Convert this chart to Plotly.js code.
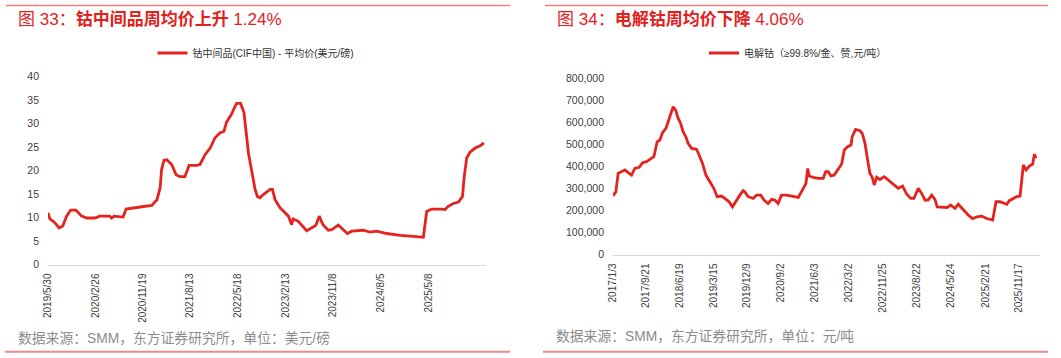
<!DOCTYPE html>
<html>
<head>
<meta charset="utf-8">
<script src="https://cdn.plot.ly/plotly-3.0.1.min.js"></script>
<style>
html,body{margin:0;padding:0;background:#fff;}
#chart{width:1061px;height:358px;}
</style>
</head>
<body>
<div id="chart"></div>
<script>
// ---------- Data: 钴中间品(CIF中国) 平均价 (美元/磅) ----------
const leftDates = [
 '2019-05-30','2019-06-10','2019-07-08','2019-08-01','2019-08-22','2019-09-13','2019-10-06','2019-11-05','2019-12-08',
 '2020-01-06','2020-02-22','2020-03-20','2020-05-16','2020-05-26','2020-06-09','2020-07-31','2020-08-17','2020-10-26','2020-11-15',
 '2021-01-10','2021-02-09','2021-02-27','2021-03-07','2021-03-21','2021-04-06','2021-05-04','2021-05-29','2021-06-20','2021-07-18',
 '2021-08-11','2021-09-24','2021-10-12','2021-11-10','2021-12-09',
 '2022-01-06','2022-02-03','2022-02-26','2022-03-12','2022-04-11','2022-04-30','2022-05-09','2022-06-01','2022-06-20','2022-07-15',
 '2022-08-03','2022-08-22','2022-09-04','2022-09-19','2022-10-08','2022-11-16','2022-11-29','2022-12-14',
 '2023-01-11','2023-02-10','2023-02-28','2023-03-18','2023-03-27','2023-04-25','2023-05-14','2023-06-12','2023-07-19','2023-08-04',
 '2023-08-23','2023-09-12','2023-10-13','2023-11-02','2023-12-09','2023-12-28',
 '2024-01-30','2024-02-24','2024-04-30','2024-06-07','2024-07-15','2024-09-11','2024-11-26',
 '2025-02-10','2025-04-07','2025-04-26','2025-05-24','2025-07-20','2025-08-08','2025-08-27','2025-09-25','2025-10-24','2025-11-16',
 '2025-11-25','2025-12-10','2025-12-29','2026-01-27','2026-02-25','2026-03-18'
];
const leftValues = [
 11.0,9.7,8.9,7.8,8.2,10.3,11.6,11.6,10.3,
 9.9,9.9,10.3,10.3,9.9,10.3,10.1,11.8,12.1,12.3,
 12.6,13.8,16.3,20.2,22.2,22.3,21.3,19.1,18.7,18.7,
 21.1,21.1,21.3,23.4,24.8,
 27.0,28.0,28.4,30.3,32.1,33.7,34.3,34.3,32.3,23.8,
 19.5,16.0,14.5,14.2,14.9,16.0,16.0,13.8,
 12.1,11.0,10.3,8.5,9.7,9.2,8.4,7.2,8.0,8.4,
 10.3,8.5,7.3,7.4,8.4,7.8,
 6.6,7.1,7.3,6.9,7.1,6.6,6.2,
 6.0,5.8,11.3,11.8,11.8,11.7,12.4,13.0,13.3,14.5,
 18.4,22.7,23.9,24.8,25.3,25.9
];
const leftTicks = ['2019-05-30','2020-02-26','2020-11-19','2021-08-13','2022-05-18','2023-02-13','2023-11-08','2024-08-05','2025-05-08'];
const leftTickText = ['2019/5/30','2020/2/26','2020/11/19','2021/8/13','2022/5/18','2023/2/13','2023/11/8','2024/8/5','2025/5/8'];

// ---------- Data: 电解钴 (≥99.8%/金、赞, 元/吨) ----------
const rightDates = [
 '2017-01-03','2017-01-26','2017-02-13','2017-03-12','2017-04-08','2017-05-04','2017-05-31','2017-06-26','2017-07-31','2017-08-27',
 '2017-09-27','2017-10-24','2017-11-25','2017-12-21',
 '2018-01-12','2018-02-02','2018-03-01','2018-03-19','2018-04-07','2018-04-28','2018-05-19','2018-06-07','2018-06-26','2018-07-16',
 '2018-08-07','2018-08-25','2018-09-22','2018-10-31','2018-11-21','2018-12-18',
 '2019-01-14','2019-02-14','2019-03-18','2019-04-14','2019-05-19','2019-06-14','2019-07-18','2019-08-14','2019-09-15','2019-10-12',
 '2019-11-07','2019-11-20','2019-12-17',
 '2020-01-26','2020-02-22','2020-03-27','2020-04-22','2020-05-24','2020-06-21','2020-07-17','2020-08-12','2020-09-08','2020-10-18','2020-12-10',
 '2021-01-20','2021-03-01','2021-03-22','2021-04-05','2021-04-17','2021-05-19','2021-06-28','2021-08-07','2021-08-26','2021-09-16',
 '2021-10-07','2021-11-03','2021-12-05',
 '2022-01-01','2022-01-22','2022-02-18','2022-03-16','2022-03-26','2022-04-22','2022-05-27','2022-06-14','2022-07-06','2022-07-27',
 '2022-08-14','2022-09-02','2022-09-18','2022-10-07','2022-11-02','2022-12-07',
 '2023-01-03','2023-02-04','2023-03-02','2023-03-28','2023-05-02','2023-06-03','2023-07-05','2023-07-31','2023-09-04','2023-10-01',
 '2023-10-27','2023-11-22','2023-12-20',
 '2024-01-15','2024-02-02','2024-03-21','2024-04-22','2024-05-19','2024-06-23','2024-07-19','2024-08-28','2024-10-06','2024-11-10','2024-12-17',
 '2025-01-22','2025-03-03','2025-04-20','2025-05-16','2025-06-17','2025-07-14','2025-08-10','2025-08-30','2025-10-01','2025-10-28',
 '2025-11-24','2025-12-20',
 '2026-01-11','2026-02-06','2026-03-05','2026-03-18','2026-03-31'
];
const rightValues = [
 265000,284000,368000,375000,383000,371000,360000,390000,395000,416000,
 421000,431000,443000,511000,
 519000,552000,572000,602000,640000,670000,652000,617000,595000,557000,
 534000,504000,481000,477000,451000,413000,
 360000,330000,300000,262000,265000,254000,239000,216000,247000,269000,
 289000,284000,262000,
 254000,269000,269000,247000,231000,250000,247000,231000,269000,269000,262000,
 259000,300000,322000,390000,356000,350000,345000,345000,375000,375000,
 356000,360000,390000,
 410000,474000,489000,496000,534000,567000,561000,549000,504000,428000,
 368000,350000,315000,350000,340000,353000,
 340000,325000,310000,300000,310000,274000,254000,254000,300000,277000,
 247000,247000,269000,
 250000,216000,216000,213000,224000,209000,228000,201000,179000,163000,171000,
 174000,163000,156000,239000,239000,235000,228000,244000,254000,262000,
 265000,406000,
 383000,401000,410000,455000,436000
];
const rightTicks = ['2017-01-03','2017-09-21','2018-06-19','2019-03-15','2019-12-09','2020-09-02','2021-06-03','2022-03-02','2022-11-25','2023-08-22','2024-05-24','2025-02-21','2025-11-17'];
const rightTickText = ['2017/1/3','2017/9/21','2018/6/19','2019/3/15','2019/12/9','2020/9/2','2021/6/3','2022/3/2','2022/11/25','2023/8/22','2024/5/24','2025/2/21','2025/11/17'];

const leftName = '钴中间品(CIF中国) - 平均价(美元/磅)';
const rightName = '电解钴（≥99.8%/金、赞,元/吨）';
const leftTitle = '图 33：<b>钴中间品周均价上升</b> 1.24%';
const rightTitle = '图 34：<b>电解钴周均价下降</b> 4.06%';
const leftSource = '数据来源：SMM，东方证券研究所，单位：美元/磅';
const rightSource = '数据来源：SMM，东方证券研究所，单位：元/吨';

// ---------- Layout ----------
const W = 1061, H = 358;
const px = v => v / W;
const py = v => (H - v) / H;
const FONT = 'Liberation Sans, Arial, Noto Sans CJK SC, sans-serif';
const RED = '#E5231E';
const AXC = '#404040';

const traces = [
  {x: leftDates, y: leftValues, type: 'scatter', mode: 'lines', name: leftName, showlegend: true,
   line: {color: RED, width: 2.8}, xaxis: 'x', yaxis: 'y', legend: 'legend'},
  {x: rightDates, y: rightValues, type: 'scatter', mode: 'lines', name: rightName, showlegend: true,
   line: {color: RED, width: 2.8}, xaxis: 'x2', yaxis: 'y2', legend: 'legend2'}
];

const xCommon = {
  type: 'date', tickangle: -90, showgrid: false, zeroline: false,
  showline: true, linecolor: '#D9D9D9', linewidth: 1,
  ticks: '', tickfont: {size: 10, color: AXC, family: FONT}, tickmode: 'array',
  ticklabelstandoff: 4
};
const yCommon = {
  showgrid: false, zeroline: false, showline: false, ticks: '',
  tickfont: {size: 10.5, color: AXC, family: FONT}, ticklabelstandoff: 8
};

const layout = {
  width: W, height: H,
  margin: {l: 0, r: 0, t: 0, b: 0},
  paper_bgcolor: '#fff', plot_bgcolor: '#fff',
  font: {family: FONT, color: AXC},
  showlegend: true,
  xaxis: Object.assign({}, xCommon, {
    domain: [px(48), px(486)], range: ['2019-05-30', '2026-03-30'],
    tickvals: leftTicks, ticktext: leftTickText, anchor: 'y'
  }),
  yaxis: Object.assign({}, yCommon, {
    domain: [py(264.5), py(76.7)], range: [0, 40], dtick: 5, tick0: 0, anchor: 'x'
  }),
  xaxis2: Object.assign({}, xCommon, {
    domain: [px(613), px(1040)], range: ['2017-01-03', '2026-05-02'],
    tickvals: rightTicks, ticktext: rightTickText, anchor: 'y2'
  }),
  yaxis2: Object.assign({}, yCommon, {
    domain: [py(254.5), py(78)], range: [0, 800000], dtick: 100000, tick0: 0,
    tickformat: ',d', anchor: 'x2'
  }),
  legend: {
    x: px(256), y: py(53), xanchor: 'center', yanchor: 'middle', orientation: 'h',
    bgcolor: 'rgba(0,0,0,0)', font: {size: 10, color: '#333', family: FONT}, itemwidth: 30, visible: true
  },
  legend2: {
    x: px(798), y: py(53), xanchor: 'center', yanchor: 'middle', orientation: 'h',
    bgcolor: 'rgba(0,0,0,0)', font: {size: 10, color: '#333', family: FONT}, itemwidth: 30, visible: true
  },
  shapes: [
    {type: 'line', xref: 'paper', yref: 'paper', x0: px(6), x1: px(510), y0: py(5.5), y1: py(5.5), line: {color: '#EE7B7B', width: 1.5}},
    {type: 'line', xref: 'paper', yref: 'paper', x0: px(545), x1: px(1048), y0: py(5.5), y1: py(5.5), line: {color: '#EE7B7B', width: 1.5}},
    {type: 'line', xref: 'paper', yref: 'paper', x0: px(5), x1: px(510), y0: py(351.7), y1: py(351.7), line: {color: '#EE8A8A', width: 2}},
    {type: 'line', xref: 'paper', yref: 'paper', x0: px(543), x1: px(1048), y0: py(351.7), y1: py(351.7), line: {color: '#EE8A8A', width: 2}}
  ],
  annotations: [
    {text: leftTitle, xref: 'paper', yref: 'paper', x: px(16), y: py(19.5), xanchor: 'left', yanchor: 'middle',
     showarrow: false, font: {size: 17, color: '#E3211C', family: FONT}},
    {text: rightTitle, xref: 'paper', yref: 'paper', x: px(555), y: py(19.5), xanchor: 'left', yanchor: 'middle',
     showarrow: false, font: {size: 17, color: '#E3211C', family: FONT}},
    {text: leftSource, xref: 'paper', yref: 'paper', x: px(16), y: py(338), xanchor: 'left', yanchor: 'middle',
     showarrow: false, font: {size: 13.8, color: '#8C8C8C', family: FONT}},
    {text: rightSource, xref: 'paper', yref: 'paper', x: px(554), y: py(336), xanchor: 'left', yanchor: 'middle',
     showarrow: false, font: {size: 13.8, color: '#8C8C8C', family: FONT}}
  ]
};

Plotly.newPlot('chart', traces, layout, {staticPlot: true, displayModeBar: false});
</script>
</body>
</html>
